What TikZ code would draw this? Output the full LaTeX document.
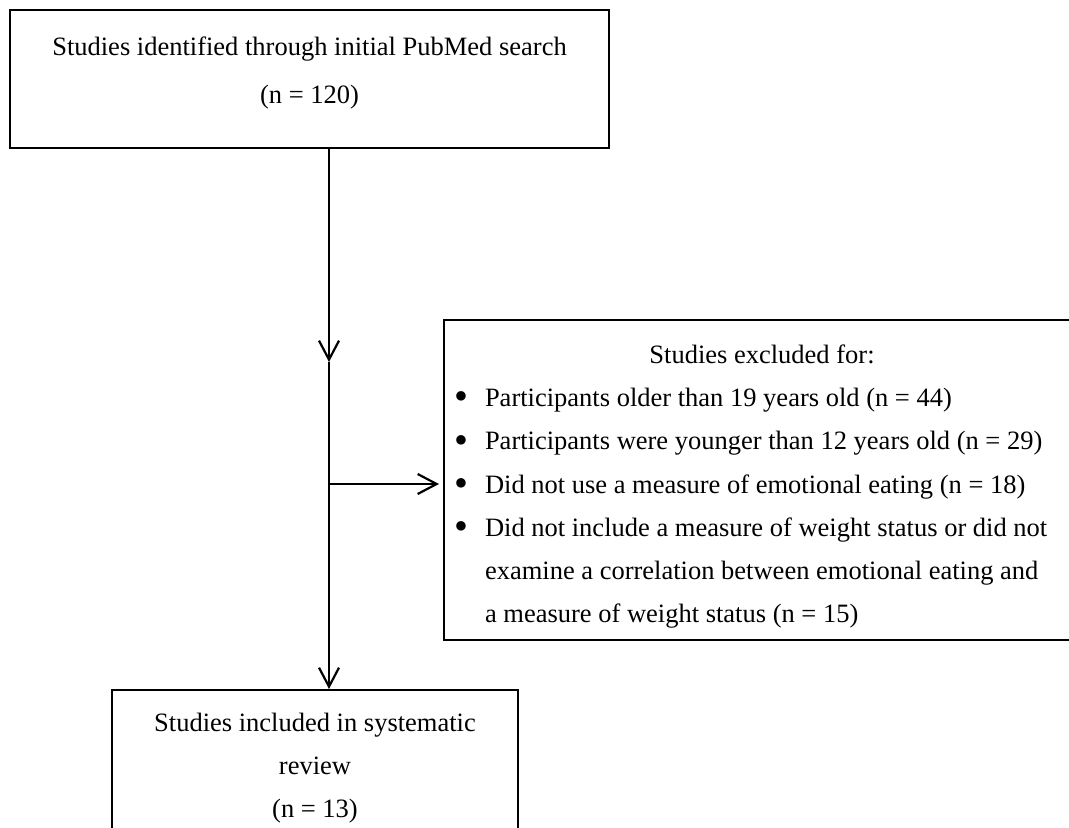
\documentclass[tikz,border=0pt]{standalone}
\usepackage{fontspec}
\setmainfont{Liberation Serif}
\usetikzlibrary{arrows.meta, positioning}
\newcommand{\bulletmark}{\raisebox{-1.6pt}{\scalebox{1.5}{•}}}

\begin{document}
\begin{tikzpicture}[x=0.5pt, y=-0.5pt,
    box/.style={rectangle, draw=black, line width=1pt, inner sep=0pt, align=center, font=\fontsize{13.25}{21.6}\selectfont},
    arrow/.style={line width=1.1pt, -{Straight Barb[length=9.5pt, width=10pt]}}
]
\useasboundingbox (0,0) rectangle (1069,828);
\clip (0,0) rectangle (1069,828);
\node (search) [box, minimum width=299.5pt, minimum height=69pt] at (309.5,79) {\begin{tabular}{c}Studies identified through initial PubMed search\\[2.5pt](n = 120)\\[8pt]\end{tabular}};
\node (excl) [box, minimum width=318pt, minimum height=160pt] at (762,480) {\begin{tabular}{@{}p{15.5pt}@{}p{292.5pt}@{}}
\multicolumn{2}{c}{\rule{0pt}{19.6pt}Studies excluded for:}\\
\bulletmark & Participants older than 19 years old (n = 44)\\
\bulletmark & Participants were younger than 12 years old (n = 29)\\
\bulletmark & Did not use a measure of emotional eating (n = 18)\\
\bulletmark & Did not include a measure of weight status or did not\\
 & examine a correlation between emotional eating and\\
 & a measure of weight status (n = 15)
\end{tabular}};
\node (incl) [box, anchor=north, minimum width=203pt, inner ysep=5.5pt] at (315,689) {\begin{tabular}{c}Studies included in systematic\\review\\(n = 13)\end{tabular}};
\coordinate (split) at (329,362);
\coordinate (branch) at (329,484);
\draw [arrow] (search.south -| split) -- (split);
\draw [arrow] (split) -- (split |- incl.north);
\draw [arrow, shorten >=2pt] (branch) -- (branch -| excl.west);
\end{tikzpicture}
\end{document}
